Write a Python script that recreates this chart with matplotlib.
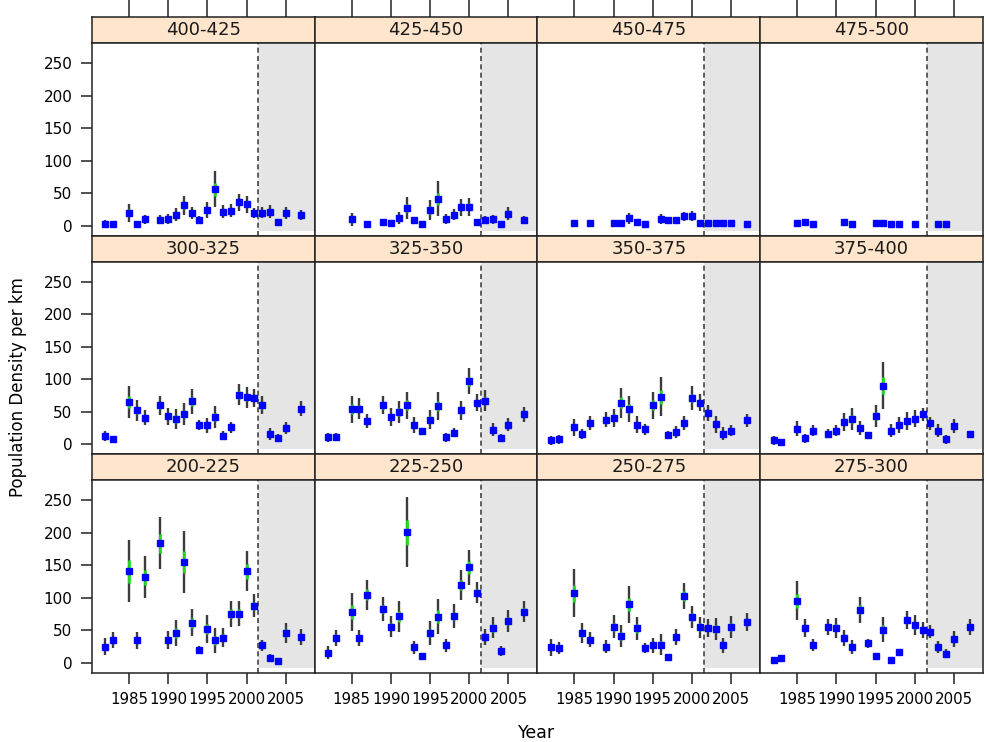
import numpy as np
import matplotlib
matplotlib.use("Agg")
import matplotlib.pyplot as plt

nan = np.nan

# survey years (same for every panel, nan where a band was not surveyed)
years = [1982, 1983, 1985, 1986, 1987, 1989, 1990, 1991, 1992, 1993, 1994,
         1995, 1996, 1997, 1998, 1999, 2000, 2001, 2002, 2003, 2004, 2005,
         2007]

# density estimates per band and half-width of the outer interval
d_200_225 = [25, 35, 141, 35, 132, 184, 35, 46, 155, 62, 20, 52, 35, 39, 76,
             76, 141, 88, 27, 8, 3, 46, 40]
e_200_225 = [13, 12, 48, 13, 32, 40, 14, 20, 48, 21, 6, 21, 19, 15, 20, 19,
             31, 18, 9, 6, 4, 16, 12]
d_225_250 = [16, 38, 78, 38, 105, 83, 56, 72, 201, 24, 10, 46, 71, 27, 72,
             120, 147, 108, 40, 54, 18, 64, 79]
e_225_250 = [10, 12, 29, 12, 23, 19, 16, 24, 54, 10, 3, 18, 27, 10, 18, 23,
             27, 16, 12, 16, 8, 17, 16]
d_250_275 = [24, 23, 107, 46, 36, 25, 56, 42, 90, 53, 23, 27, 28, 9, 40, 103,
             71, 55, 54, 52, 27, 55, 63]
e_250_275 = [13, 9, 37, 15, 12, 10, 17, 17, 29, 18, 8, 12, 16, 5, 12, 20, 17,
             16, 14, 17, 11, 17, 14]
d_275_300 = [5, 8, 96, 54, 28, 55, 54, 38, 24, 82, 30, 11, 51, 5, 17, 66, 58,
             51, 48, 25, 14, 37, 55]
e_275_300 = [4, 3, 30, 14, 9, 12, 15, 12, 11, 20, 7, 5, 19, 4, 5, 14, 15, 12,
             10, 9, 7, 12, 12]
d_300_325 = [13, 8, 65, 52, 41, 60, 43, 39, 47, 66, 30, 29, 42, 13, 26, 76,
             72, 71, 60, 16, 10, 25, 55]
e_300_325 = [8, 5, 24, 16, 11, 15, 13, 16, 17, 19, 8, 12, 17, 7, 8, 16, 16,
             14, 14, 9, 6, 9, 12]
d_325_350 = [11, 11, 54, 55, 36, 60, 42, 49, 60, 30, 20, 38, 59, 11, 18, 52,
             97, 64, 67, 22, 10, 30, 46]
e_325_350 = [7, 6, 21, 16, 11, 14, 14, 17, 21, 12, 5, 15, 22, 7, 7, 15, 20,
             13, 16, 10, 6, 10, 12]
d_350_375 = [6, 8, 26, 16, 33, 38, 41, 64, 55, 30, 23, 60, 73, 14, 19, 33, 71,
             64, 48, 31, 16, 21, 37]
e_350_375 = [7, 7, 13, 8, 11, 12, 14, 23, 20, 13, 8, 21, 30, 6, 9, 11, 18, 13,
             12, 13, 10, 9, 10]
d_375_400 = [6, 4, 24, 9, 21, 16, 21, 34, 39, 25, 14, 43, 90, 21, 30, 36, 39,
             46, 32, 21, 8, 28, 16]
e_375_400 = [7, 3, 12, 7, 8, 7, 9, 14, 17, 11, 5, 17, 36, 10, 12, 14, 13, 10,
             10, 10, 7, 11, 5]
d_400_425 = [3, 2, 20, 3, 10, 9, 10, 17, 31, 19, 9, 24, 56, 21, 23, 36, 33,
             19, 20, 21, 6, 19, 16]
e_400_425 = [5, 5, 14, 4, 7, 7, 8, 10, 15, 9, 5, 13, 28, 10, 10, 13, 13, 8, 9,
             10, 4, 9, 8]
d_425_450 = [nan, nan, 10, nan, 2, 6, 4, 12, 27, 8, 3, 24, 41, 10, 17, 28, 29,
             6, 9, 10, 2, 18, 9]
e_425_450 = [nan, nan, 10, nan, 4, 4, 5, 9, 17, 5, 3, 15, 27, 8, 8, 13, 14, 4,
             5, 7, 3, 10, 6]
d_450_475 = [nan, nan, 4, nan, 4, nan, 4, 4, 11, 6, 3, nan, 10, 8, 8, 14, 15,
             4, 4, 4, 4, 4, 3]
e_450_475 = [nan, nan, 2, nan, 2, nan, 2, 2, 8, 3, 2, nan, 8, 4, 4, 7, 8, 2,
             2, 2, 2, 2, 2]
d_475_500 = [nan, nan, 4, 6, 3, nan, nan, 5, 3, nan, nan, 4, 4, 3, 3, nan, 3,
             nan, nan, 2, 3, nan, nan]
e_475_500 = [nan, nan, 2, 2, 2, nan, nan, 3, 2, nan, nan, 2, 5, 2, 2, nan, 2,
             nan, nan, 2, 2, nan, nan]

# panel layout, top row first (lattice fills from the bottom)
panel_rows = [
    [("400-425", d_400_425, e_400_425), ("425-450", d_425_450, e_425_450),
     ("450-475", d_450_475, e_450_475), ("475-500", d_475_500, e_475_500)],
    [("300-325", d_300_325, e_300_325), ("325-350", d_325_350, e_325_350),
     ("350-375", d_350_375, e_350_375), ("375-400", d_375_400, e_375_400)],
    [("200-225", d_200_225, e_200_225), ("225-250", d_225_250, e_225_250),
     ("250-275", d_250_275, e_250_275), ("275-300", d_275_300, e_275_300)],
]

x_ticks = [1985, 1990, 1995, 2000, 2005]
y_ticks = [0, 50, 100, 150, 200, 250]
cutoff_year = 2001.5

W, H = 987, 742
LEFT, RIGHT, TOP, BOTTOM = 92, 983, 17, 673
STRIP_H = 26
XLIM = (1980.3, 2008.7)
YLIM = (-15.5, 281)
FRAME = "#222222"


def add_px_axes(fig, x0, y0, w, h):
    """Add axes given in pixel coordinates measured from the top left."""
    return fig.add_axes([x0 / W, 1 - (y0 + h) / H, w / W, h / H])


def draw_panel(ax, dens, err):
    """Shaded survey period, cut-off line and the interval estimates."""
    yrs = np.array(years, dtype=float)
    d = np.array(dens, dtype=float)
    e = np.array(err, dtype=float)
    ok = ~np.isnan(d)
    yrs, d, e = yrs[ok], d[ok], e[ok]

    ax.fill_between([cutoff_year, XLIM[1] + 1], -8, 400,
                    color="#e5e5e5", lw=0, zorder=0)
    ax.axvline(cutoff_year, color="#444444", ls=(0, (3, 2)), lw=1.2,
               zorder=1)

    ax.vlines(yrs, d - e, d + e, color="#3c3c3c", lw=1.7, zorder=2)
    ax.vlines(yrs, d - 0.36 * e, d + 0.36 * e, color="#22dd22", lw=2.0,
              zorder=3)
    ax.plot(yrs, d, "s", color="#0000ff", ms=4.8, mec="#0000ff", zorder=4)

    ax.set_xlim(XLIM)
    ax.set_ylim(YLIM)
    for sp in ax.spines.values():
        sp.set_color(FRAME)
        sp.set_linewidth(1.1)


fig = plt.figure(figsize=(W / 100, H / 100), dpi=100)
row_h = (BOTTOM - TOP) / 3
col_w = (RIGHT - LEFT) / 4

for r, row in enumerate(panel_rows):
    y_top = TOP + r * row_h
    for c, (band, dens, err) in enumerate(row):
        x0 = LEFT + c * col_w

        strip = add_px_axes(fig, x0, y_top, col_w, STRIP_H)
        strip.set_facecolor("#ffe5cc")
        strip.set_xlim(XLIM)
        strip.set_yticks([])
        strip.text(0.5, 0.5, band, transform=strip.transAxes, ha="center",
                   va="center", fontsize=13, color="#1a1a1a")
        for sp in strip.spines.values():
            sp.set_color(FRAME)
            sp.set_linewidth(1.1)
        if r == 0:
            strip.xaxis.tick_top()
            strip.set_xticks(x_ticks)
            strip.tick_params(axis="x", direction="out", length=12,
                              width=1.2, color="#333333", labeltop=False)
        else:
            strip.set_xticks([])

        ax = add_px_axes(fig, x0, y_top + STRIP_H, col_w, row_h - STRIP_H)
        draw_panel(ax, dens, err)

        if r == 2:
            ax.set_xticks(x_ticks)
            ax.set_xticklabels([str(t) for t in x_ticks])
            ax.tick_params(axis="x", direction="out", length=8, width=1.2,
                           color="#333333", labelsize=10.8, pad=6)
        else:
            ax.set_xticks([])

        if c == 0:
            ax.set_yticks(y_ticks)
            ax.set_yticklabels([str(t) for t in y_ticks])
            ax.tick_params(axis="y", direction="out", length=8, width=1.2,
                           color="#333333", labelsize=11, pad=6)
        else:
            ax.set_yticks([])

fig.text(537 / W, 1 - 733 / H, "Year", ha="center", va="center",
         fontsize=12.5)
fig.text(18 / W, 1 - 387 / H, "Population Density per km", ha="center",
         va="center", rotation=90, fontsize=12)

fig.savefig("out.png", dpi=100)
